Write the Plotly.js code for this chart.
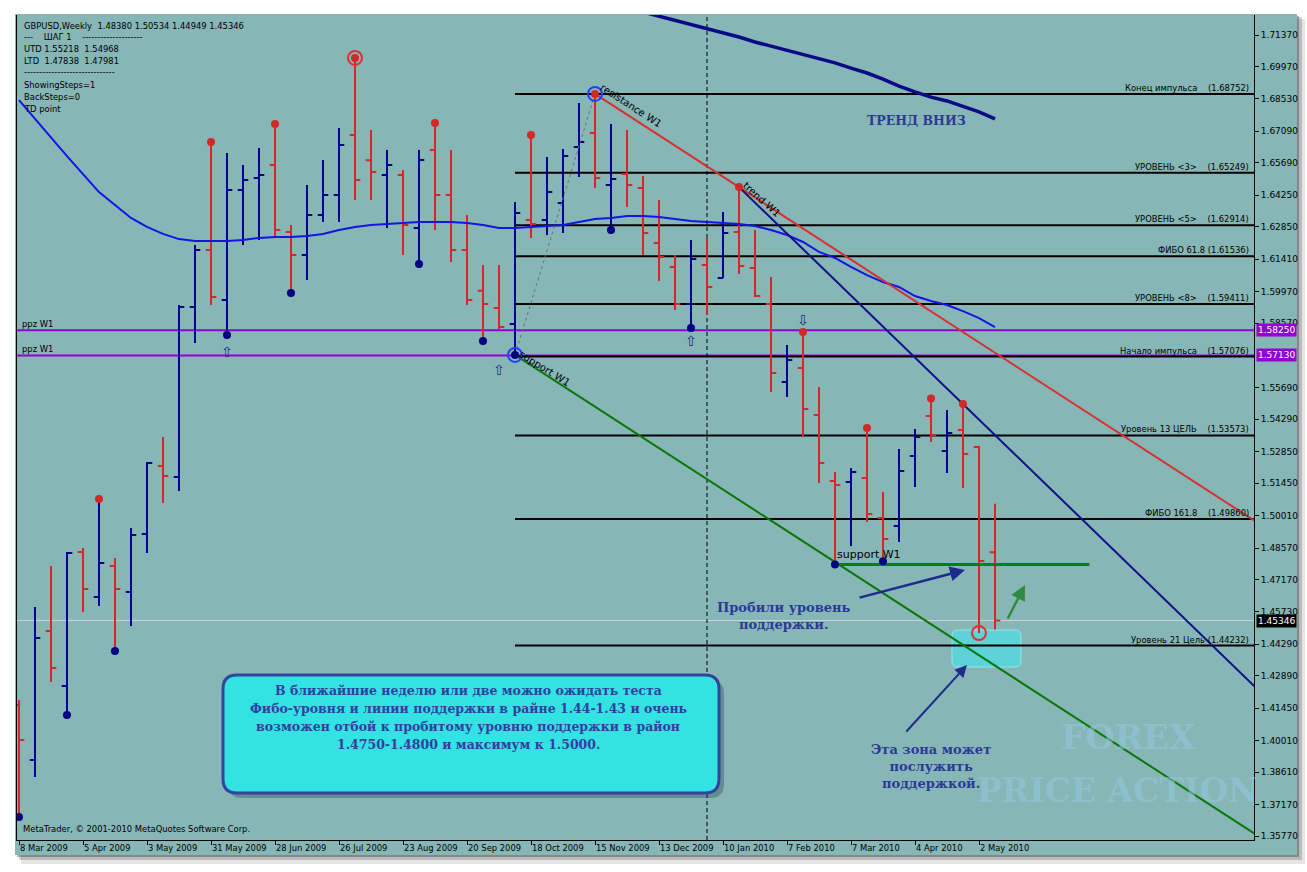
<!DOCTYPE html>
<html><head><meta charset="utf-8">
<script src="https://cdn.plot.ly/plotly-3.0.1.min.js"></script>
<style>html,body{margin:0;padding:0;background:#fff;}#chart{width:1307px;height:872px;}</style>
</head><body><div id="chart"></div>
<script>
// ---- DATA (GBPUSD weekly) ----
const tickLabels = ["8 Mar 2009","5 Apr 2009","3 May 2009","31 May 2009","28 Jun 2009","26 Jul 2009","23 Aug 2009","20 Sep 2009","18 Oct 2009","15 Nov 2009","13 Dec 2009","10 Jan 2010","7 Feb 2010","7 Mar 2010","4 Apr 2010","2 May 2010"];
const open  = [1.4159,1.3915,1.4488,1.4244,1.4839,1.4639,1.4777,1.4662,1.4919,1.5222,1.5173,1.5928,1.6182,1.5959,1.6448,1.6501,1.6559,1.6261,1.6159,1.6337,1.6426,1.6693,1.6580,1.6515,1.6515,1.6279,1.6626,1.6426,1.6181,1.6000,1.5924,1.5853,1.6315,1.6315,1.6390,1.6639,1.6701,1.6470,1.6519,1.6457,1.6213,1.6106,1.5941,1.6115,1.6057,1.6261,1.6101,1.5941,1.5595,1.5657,1.5448,1.5155,1.5150,1.5168,1.4990,1.4955,1.5266,1.5444,1.5288,1.5381,1.5306,1.48380];
const high  = [1.4182,1.4595,1.4777,1.4839,1.4857,1.5075,1.4813,1.4946,1.5239,1.5350,1.5937,1.6204,1.6662,1.6613,1.6559,1.6635,1.6741,1.6293,1.6470,1.6581,1.6724,1.7035,1.6715,1.6626,1.6537,1.6626,1.6746,1.6626,1.6337,1.6115,1.6115,1.6395,1.6693,1.6595,1.6630,1.6835,1.68752,1.6741,1.6715,1.6510,1.6404,1.6159,1.6226,1.6235,1.6350,1.6461,1.6270,1.6061,1.5759,1.5817,1.5573,1.5195,1.5213,1.5390,1.5106,1.5297,1.5386,1.55218,1.5470,1.54968,1.5310,1.50534];
const low   = [1.3662,1.3839,1.4262,1.4115,1.4573,1.4599,1.4399,1.4510,1.4835,1.5057,1.5110,1.5768,1.5937,1.5804,1.6204,1.6226,1.6235,1.5990,1.6048,1.6306,1.6306,1.6404,1.6404,1.6279,1.6159,1.6119,1.6270,1.6128,1.5937,1.5777,1.5826,1.5715,1.6235,1.6248,1.6257,1.6506,1.6457,1.6270,1.6373,1.6159,1.6044,1.5915,1.5835,1.5893,1.6057,1.6075,1.5973,1.5550,1.5528,1.5350,1.5146,1.47838,1.4866,1.4973,1.47981,1.4884,1.5128,1.5328,1.5190,1.5124,1.4479,1.44949];
const close = [1.4004,1.4457,1.4324,1.4835,1.4675,1.4790,1.4675,1.4915,1.5235,1.5177,1.5928,1.6182,1.5973,1.6448,1.6493,1.6515,1.6270,1.6159,1.6337,1.6426,1.6648,1.6493,1.6528,1.6559,1.6293,1.6581,1.6426,1.6181,1.5959,1.5941,1.5839,1.6346,1.6297,1.6439,1.6599,1.6661,1.6501,1.6497,1.6470,1.6257,1.6150,1.5941,1.6141,1.6017,1.6257,1.6110,1.5977,1.5635,1.5693,1.5475,1.5235,1.5137,1.5195,1.5008,1.4897,1.5199,1.5350,1.5359,1.5368,1.5275,1.4799,1.45346];
const maFast = [1.6848,1.6764,1.6684,1.6599,1.6519,1.6439,1.6381,1.6324,1.6284,1.6253,1.6230,1.6221,1.6221,1.6221,1.6226,1.6235,1.6239,1.6239,1.6244,1.6253,1.6270,1.6284,1.6293,1.6297,1.6301,1.6306,1.6306,1.6306,1.6301,1.6293,1.6279,1.6279,1.6284,1.6288,1.6293,1.6306,1.6319,1.6324,1.6333,1.6333,1.6328,1.6319,1.6310,1.6306,1.6301,1.6297,1.6288,1.6270,1.6248,1.6217,1.6173,1.6146,1.6106,1.6070,1.6039,1.6017,1.5977,1.5955,1.5937,1.5910,1.5879,1.5839];
const maSlowStart = 39;
const maSlow = [1.7239,1.7221,1.7204,1.7186,1.7168,1.7146,1.7128,1.7106,1.7088,1.7066,1.7048,1.7030,1.7013,1.6990,1.6968,1.6941,1.6910,1.6884,1.6861,1.6844,1.6821,1.6795,1.6764];
const fiboLevels = [1.68752,1.65249,1.62914,1.61536,1.59411,1.57076,1.53573,1.49860,1.44232];
const fiboNames  = ["Конец импульса\u00a0\u00a0\u00a0\u00a0","УРОВЕНЬ &lt;3&gt;\u00a0\u00a0\u00a0\u00a0","УРОВЕНЬ &lt;5&gt;\u00a0\u00a0\u00a0\u00a0","ФИБО 61.8 ","УРОВЕНЬ &lt;8&gt;\u00a0\u00a0\u00a0\u00a0","Начало импульса\u00a0\u00a0\u00a0\u00a0","Уровень 13 ЦЕЛЬ\u00a0\u00a0\u00a0\u00a0","ФИБО 161.8\u00a0\u00a0\u00a0\u00a0","Уровень 21 Цель "];
const fiboStart = 31;
const ppzLevels = [1.58250,1.57130];
const lastPrice = 1.45346;
const supportLevel = 1.47838, supportFrom = 51, supportTo = 66.9;
const resistA = [36,1.68752], resistB = [45,1.6461];
const trendA  = [45,1.6461],  trendB  = [59,1.54968];
const supportAnchor = [31,1.5715];
const yTicks = [1.71370,1.69970,1.68530,1.67090,1.65690,1.64250,1.62850,1.61410,1.59970,1.58570,1.55690,1.54290,1.52850,1.51450,1.50010,1.48570,1.47170,1.45730,1.44290,1.42890,1.41450,1.40010,1.38610,1.37170,1.35770];
const redDots  = [5,12,16,21,26,32,36,45,49,53,57,59];
const blueDots = [0,3,6,13,17,25,29,31,37,42,51,54];
const separatorIdx = 43;
const infoLines = ["GBPUSD,Weekly\u00a0\u00a01.48380 1.50534 1.44949 1.45346","---\u00a0\u00a0\u00a0\u00a0ШАГ 1\u00a0\u00a0\u00a0\u00a0--------------------","UTD 1.55218\u00a0\u00a01.54968","LTD\u00a0\u00a01.47838\u00a0\u00a01.47981","------------------------------","ShowingSteps=1","BackSteps=0","TD point"];
const boxLines = ["В ближайшие неделю или две можно ожидать теста","Фибо-уровня и линии поддержки в райне 1.44-1.43 и очень","возможен отбой к пробитому уровню поддержки в район","1.4750-1.4800 и максимум к 1.5000."];

// ---- GEOMETRY HELPERS (pixel -> paper) ----
const PL=17, PR=1254, PT=15, PB=840;
const px = x => (x-PL)/(PR-PL), py = y => (PB-y)/(PB-PT);
const idx = open.map((_,i)=>i);
const XMAX = (PR-19)/16, XMIN = -0.125;
function ray(a,b,x){ return a[1]+(b[1]-a[1])/(b[0]-a[0])*(x-a[0]); }
function rrect(x0,y0,x1,y1,r){
  const P=(x,y)=>px(x).toFixed(5)+','+py(y).toFixed(5);
  return `M${P(x0+r,y0)} L${P(x1-r,y0)} Q${P(x1,y0)} ${P(x1,y0+r)} L${P(x1,y1-r)} Q${P(x1,y1)} ${P(x1-r,y1)} L${P(x0+r,y1)} Q${P(x0,y1)} ${P(x0,y1-r)} L${P(x0,y0+r)} Q${P(x0,y0)} ${P(x0+r,y0)} Z`;
}
const FS = "DejaVu Sans", SERIF = "DejaVu Serif", MTS = 8.4;
const NAVY = "#00008C", RED = "#D22A2A", TXT = "#2A3A96";

// ---- TRACES ----
const traces = [];
traces.push({type:'scatter',mode:'lines',x:idx,y:maFast,line:{color:'#1414E6',width:2},hoverinfo:'skip'});
traces.push({type:'scatter',mode:'lines',x:maSlow.map((_,i)=>i+maSlowStart),y:maSlow,line:{color:'#0A0A88',width:3.5},hoverinfo:'skip'});
traces.push({type:'ohlc',x:idx,open:open,high:high,low:low,close:close,tickwidth:0.33,
  increasing:{line:{color:NAVY,width:2}},decreasing:{line:{color:RED,width:2}},hoverinfo:'skip'});
traces.push({type:'scatter',mode:'lines',x:[resistA[0],XMAX+1],y:[resistA[1],ray(resistA,resistB,XMAX+1)],line:{color:'#D83030',width:2},hoverinfo:'skip'});
traces.push({type:'scatter',mode:'lines',x:[trendA[0],XMAX+1],y:[trendA[1],ray(trendA,trendB,XMAX+1)],line:{color:'#10108A',width:2},hoverinfo:'skip'});
traces.push({type:'scatter',mode:'lines',x:[supportAnchor[0],XMAX+1],y:[supportAnchor[1],supportAnchor[1]+(resistB[1]-resistA[1])/(resistB[0]-resistA[0])*(XMAX+1-supportAnchor[0])],line:{color:'#0A780A',width:2},hoverinfo:'skip'});
traces.push({type:'scatter',mode:'lines',x:[supportAnchor[0],resistA[0]],y:[supportAnchor[1],resistA[1]],line:{color:'#707070',width:1,dash:'dot'},hoverinfo:'skip'});
traces.push({type:'scatter',mode:'lines',x:[supportFrom,supportTo],y:[supportLevel,supportLevel],line:{color:'#0A800A',width:3},hoverinfo:'skip'});
traces.push({type:'scatter',mode:'markers',x:redDots,y:redDots.map(i=>high[i]),marker:{color:'#D42828',size:8},hoverinfo:'skip'});
traces.push({type:'scatter',mode:'markers',x:blueDots,y:blueDots.map(i=>low[i]),marker:{color:'#000080',size:8},hoverinfo:'skip'});
traces.push({type:'scatter',mode:'markers',x:[31,36],y:[low[31],high[36]],marker:{symbol:'circle-open',color:'#2040FF',size:14,line:{width:2}},hoverinfo:'skip'});
traces.push({type:'scatter',mode:'markers',x:[21,60],y:[high[21],low[60]],marker:{symbol:'circle-open',color:'#E03030',size:14,line:{width:2}},hoverinfo:'skip'});

// ---- SHAPES ----
const shapes = [];
[[21,19,1305,864,0.10],[19,17,1302,860,0.18],[17,16,1299,857,0.28]].forEach(s=>{
  shapes.push({type:'rect',xref:'paper',yref:'paper',x0:px(s[0]),x1:px(s[2]),y0:py(s[3]),y1:py(s[1]),fillcolor:`rgba(0,0,0,${s[4]})`,line:{width:0},layer:'below'});
});
shapes.push({type:'rect',xref:'paper',yref:'paper',x0:px(15),x1:px(1297),y0:py(855),y1:py(14),fillcolor:'#87B6B6',line:{width:0},layer:'below'});
shapes.push({type:'line',xref:'paper',yref:'y',x0:0,x1:1,y0:lastPrice,y1:lastPrice,line:{color:'#C9D6D6',width:1},layer:'below'});
fiboLevels.forEach(v=>shapes.push({type:'line',xref:'x',yref:'y',x0:fiboStart,x1:XMAX+2,y0:v,y1:v,line:{color:'#000',width:2},layer:'below'}));
ppzLevels.forEach(v=>shapes.push({type:'line',xref:'paper',yref:'y',x0:0,x1:1,y0:v,y1:v,line:{color:'#9400D3',width:2},layer:'below'}));
shapes.push({type:'line',xref:'x',yref:'paper',x0:separatorIdx,x1:separatorIdx,y0:0,y1:1,line:{color:'#000',width:1,dash:'4px,3px'},layer:'below'});
shapes.push({type:'path',xref:'paper',yref:'paper',path:rrect(952,630,1021,667,6),fillcolor:'rgba(80,220,225,0.75)',line:{color:'rgba(150,235,235,0.9)',width:1},layer:'below'});
shapes.push({type:'path',xref:'paper',yref:'paper',path:rrect(228,680,724,798,14),fillcolor:'rgba(40,60,80,0.35)',line:{width:0},layer:'above'});
shapes.push({type:'path',xref:'paper',yref:'paper',path:rrect(223,675,719,793,14),fillcolor:'#33E2E2',line:{color:'#33449E',width:3},layer:'above'});

// ---- ANNOTATIONS ----
const ann = [];
function A(o){ ann.push(Object.assign({showarrow:false,xanchor:'center',yanchor:'middle',font:{family:FS,size:MTS,color:'#000'}},o)); }
tickLabels.forEach((t,k)=>A({text:t,xref:'x',x:4*k,xanchor:'left',xshift:-1,yref:'paper',y:py(848)}));
infoLines.forEach((t,k)=>A({text:t,xref:'paper',x:px(22),xanchor:'left',yref:'paper',y:py([26,37,49,61,72,85,97,109][k])}));
fiboLevels.forEach((v,k)=>A({text:fiboNames[k]+'('+v.toFixed(5)+')',xref:'paper',x:px(1251),xanchor:'right',yref:'y',y:v,yanchor:'bottom',yshift:-1}));
ppzLevels.forEach(v=>A({text:'ppz W1',xref:'paper',x:px(20),xanchor:'left',yref:'y',y:v,yanchor:'bottom',yshift:-1}));
ppzLevels.forEach(v=>A({text:v.toFixed(5),xref:'paper',x:px(1256),xanchor:'left',yref:'y',y:v,bgcolor:'#9400D3',borderpad:1,font:{family:FS,size:9,color:'#fff'}}));
A({text:lastPrice.toFixed(5),xref:'paper',x:px(1256),xanchor:'left',yref:'y',y:lastPrice,bgcolor:'#000',borderpad:1,font:{family:FS,size:9,color:'#fff'}});
A({text:'MetaTrader, © 2001-2010 MetaQuotes Software Corp.',xref:'paper',x:px(21),xanchor:'left',yref:'paper',y:py(829)});
A({text:'support W1',xref:'x',x:supportFrom,xanchor:'left',yref:'y',y:supportLevel,yanchor:'bottom',yshift:1,font:{family:FS,size:11,color:'#000'}});
A({text:'resistance W1',xref:'paper',x:px(631),yref:'paper',y:py(105),textangle:33,font:{family:FS,size:10,color:'#000'}});
A({text:'trend W1',xref:'paper',x:px(762),yref:'paper',y:py(199),textangle:42,font:{family:FS,size:10,color:'#000'}});
A({text:'support W1',xref:'paper',x:px(545),yref:'paper',y:py(368),textangle:32,font:{family:FS,size:10,color:'#000'}});
[[13,352,'⇧'],[30,370,'⇧'],[42,341,'⇧'],[49,320,'⇩']].forEach(a=>A({text:a[2],xref:'x',x:a[0],yref:'paper',y:py(a[1]),font:{family:FS,size:14,color:'#1A2A8A'}}));
A({text:'<b>FOREX</b>',xref:'paper',x:px(1128),yref:'paper',y:py(737),font:{family:SERIF,size:34,color:'rgba(150,200,228,0.5)'}});
A({text:'<b>PRICE ACTION</b>',xref:'paper',x:px(1117),yref:'paper',y:py(790),font:{family:SERIF,size:33,color:'rgba(150,200,228,0.5)'}});
A({text:'<b>ТРЕНД ВНИЗ</b>',xref:'paper',x:px(916),yref:'paper',y:py(120),font:{family:SERIF,size:12.5,color:TXT}});
A({text:'<b>Пробили уровень<br>поддержки.</b>',xref:'paper',x:px(784),yref:'paper',y:py(616),font:{family:SERIF,size:13,color:TXT}});
A({text:'<b>Эта зона может<br>послужить<br>поддержкой.</b>',xref:'paper',x:px(931),yref:'paper',y:py(766),font:{family:SERIF,size:13,color:TXT}});
boxLines.forEach((t,k)=>A({text:'<b>'+t+'</b>',xref:'paper',x:px(468),yref:'paper',y:py(690+18*k),font:{family:SERIF,size:12.5,color:'#3040A0'}}));
A({text:'',xref:'paper',yref:'paper',x:px(965),y:py(570),showarrow:true,ax:-107,ay:28,arrowcolor:'#1E2A8C',arrowwidth:2.5,arrowhead:2,arrowsize:1.2});
A({text:'',xref:'paper',yref:'paper',x:px(967),y:py(665),showarrow:true,ax:-62,ay:68,arrowcolor:'#1E2A8C',arrowwidth:2,arrowhead:2,arrowsize:1.2});
A({text:'',xref:'paper',yref:'paper',x:px(1025),y:py(585),showarrow:true,ax:-18,ay:35,arrowcolor:'#2E8B3E',arrowwidth:2.5,arrowhead:2,arrowsize:1.2});

const layout = {
  width:1307,height:872,margin:{l:PL,r:1307-PR,t:PT,b:872-PB},
  paper_bgcolor:'#FFFFFF',plot_bgcolor:'#87B6B6',showlegend:false,hovermode:false,
  font:{family:FS,size:9,color:'#000'},
  xaxis:{range:[XMIN,XMAX],showgrid:false,zeroline:false,rangeslider:{visible:false},
    tickvals:tickLabels.map((_,k)=>4*k),showticklabels:false,ticks:'outside',ticklen:4,tickcolor:'#000',
    showline:true,linecolor:'#000',linewidth:1,fixedrange:true},
  yaxis:{range:[1.729256-PB/2250,1.729256-PT/2250],side:'right',showgrid:false,zeroline:false,
    tickvals:yTicks,ticktext:yTicks.map(v=>v.toFixed(5)),ticks:'outside',ticklen:4,tickcolor:'#000',
    tickfont:{family:FS,size:9,color:'#000'},showline:true,linecolor:'#000',linewidth:1,mirror:true,fixedrange:true},
  shapes:shapes,annotations:ann
};
Plotly.newPlot('chart',traces,layout,{staticPlot:true,displayModeBar:false});
</script></body></html>
